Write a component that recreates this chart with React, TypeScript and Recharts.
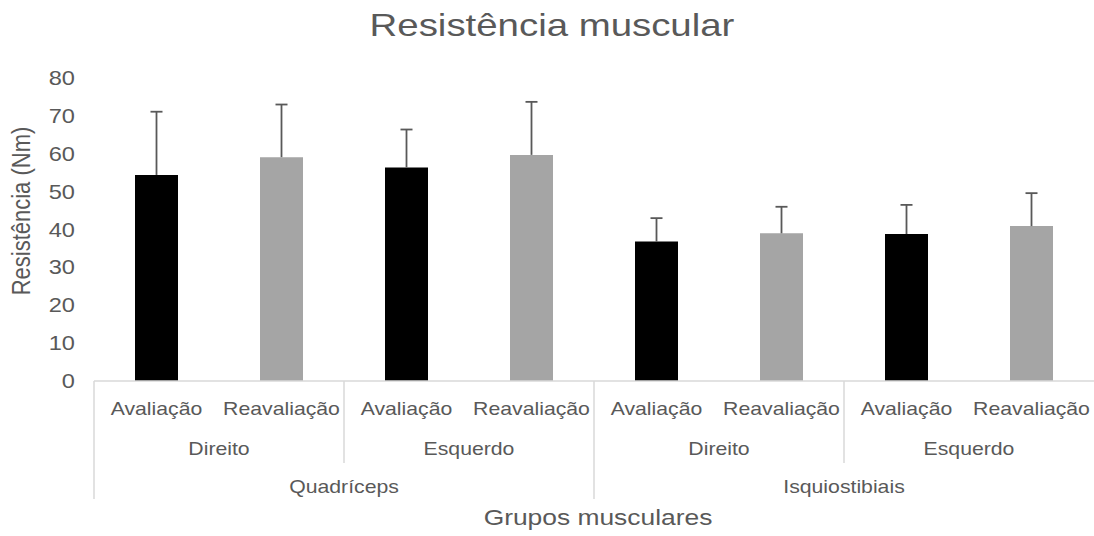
import React from 'react';
import { BarChart, Bar, XAxis, YAxis, ErrorBar, Cell } from 'recharts';

// Sessions along the x axis (lowest level of the category hierarchy)
const sessions = [
  'Avaliação', 'Reavaliação', 'Avaliação', 'Reavaliação',
  'Avaliação', 'Reavaliação', 'Avaliação', 'Reavaliação',
];
// Second level: leg side, one per pair of sessions
const sides = ['Direito', 'Esquerdo', 'Direito', 'Esquerdo'];
// Top level: muscle group, one per four sessions
const muscleGroups = ['Quadríceps', 'Isquiostibiais'];

// Mean resistance (Nm) and standard deviation for each bar
const resistance = [54.4, 59.1, 56.4, 59.7, 36.8, 39.0, 38.8, 40.9];
const standardDeviation = [16.7, 13.9, 10.0, 14.0, 6.2, 7.0, 7.7, 8.7];

const yTicks = [0, 10, 20, 30, 40, 50, 60, 70, 80];

const sessionColors = ['#000000', '#a5a5a5'];

// Layout
const W = 1094;
const H = 536;
const Y_AXIS_W = 94;
const MARGIN_TOP = 78;
const X_AXIS_H = 155;
const AXIS_Y = H - X_AXIS_H;
const PLOT_W = W - Y_AXIS_W;
const BAND = PLOT_W / sessions.length;
const TEXT = '#595959';
const RULE = '#d9d9d9';
const FONT = '"Liberation Sans", Arial, sans-serif';
const STRETCH = 1.18;

const data = sessions.map((s, i) => ({
  key: `c${i}`,
  session: s,
  value: resistance[i],
  // upper-only error bar: [below, above]
  sd: [0, standardDeviation[i]],
}));

type TxtProps = {
  x: number;
  y: number;
  size: number;
  anchor?: 'start' | 'middle' | 'end';
  children: React.ReactNode;
};

const Txt = ({ x, y, size, anchor = 'middle', children }: TxtProps) => (
  <text
    transform={`translate(${x},${y}) scale(${STRETCH},1)`}
    x={0}
    y={0}
    textAnchor={anchor}
    fontSize={size}
    fontFamily={FONT}
    fill={TEXT}
  >
    {children}
  </text>
);

const CategoryTick = (props: any) => {
  const { x, payload } = props;
  const i: number = payload.index ?? props.index;
  const left = x - BAND / 2;
  return (
    <g>
      <Txt x={x} y={AXIS_Y + 34} size={18}>
        {sessions[i]}
      </Txt>
      {i % 2 === 0 && (
        <>
          <line
            x1={left}
            x2={left}
            y1={AXIS_Y}
            y2={i % 4 === 0 ? AXIS_Y + 118 : AXIS_Y + 82}
            stroke={RULE}
            strokeWidth={1.5}
          />
          <Txt x={left + BAND} y={AXIS_Y + 74} size={18}>
            {sides[i / 2]}
          </Txt>
        </>
      )}
      {i % 4 === 0 && (
        <Txt x={left + 2 * BAND} y={AXIS_Y + 112} size={18}>
          {muscleGroups[i / 4]}
        </Txt>
      )}
    </g>
  );
};

const ValueTick = (props: any) => {
  const { x, y, payload } = props;
  return (
    <Txt x={x} y={y + 7} size={20} anchor="end">
      {payload.value}
    </Txt>
  );
};

export default function App() {
  return (
    <div style={{ position: 'absolute', left: 0, top: 0, width: W, height: H, background: '#fff' }}>
      <style>{'.recharts-errorBar line:nth-of-type(3){display:none}'}</style>
      <BarChart
        width={W}
        height={H}
        data={data}
        margin={{ top: MARGIN_TOP, right: 0, bottom: 0, left: 0 }}
        barSize={43}
      >
        <text
          transform={`translate(552,36) scale(1.2,1)`}
          textAnchor="middle"
          fontSize={32}
          fontFamily={FONT}
          fill={TEXT}
        >
          Resistência muscular
        </text>
        <text
          transform={`translate(21,211) scale(1.15,1) rotate(-90)`}
          textAnchor="middle"
          dominantBaseline="central"
          fontSize={22}
          fontFamily={FONT}
          fill={TEXT}
        >
          Resistência (Nm)
        </text>
        <text
          transform={`translate(598,525) scale(1.2,1)`}
          textAnchor="middle"
          fontSize={22}
          fontFamily={FONT}
          fill={TEXT}
        >
          Grupos musculares
        </text>
        <XAxis
          dataKey="key"
          height={X_AXIS_H}
          interval={0}
          tickLine={false}
          axisLine={{ stroke: RULE, strokeWidth: 1.5 }}
          tick={CategoryTick}
        />
        <YAxis
          width={Y_AXIS_W}
          domain={[0, 80]}
          ticks={yTicks}
          allowDataOverflow
          axisLine={false}
          tickLine={false}
          tickSize={0}
          tickMargin={19}
          tick={ValueTick}
        />
        <Bar dataKey="value" isAnimationActive={false}>
          {data.map((d, i) => (
            <Cell key={d.key} fill={sessionColors[i % 2]} />
          ))}
          <ErrorBar
            dataKey="sd"
            direction="y"
            width={6}
            stroke="#595959"
            strokeWidth={1.8}
            isAnimationActive={false}
          />
        </Bar>
      </BarChart>
    </div>
  );
}
